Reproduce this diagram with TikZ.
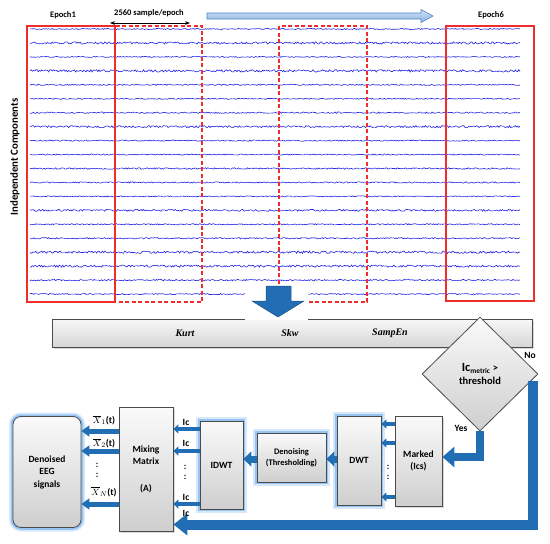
\documentclass[tikz,border=0pt]{standalone}
\usepackage{fontspec}
\setmainfont{Liberation Serif}
\setsansfont{Carlito}
\usetikzlibrary{arrows.meta,shapes.geometric,shadows}
\definecolor{flowblue}{RGB}{34,110,180}
\definecolor{eegblue}{RGB}{35,35,230}
\definecolor{glowblue}{RGB}{95,165,235}
\definecolor{boxedge}{RGB}{75,75,75}
\definecolor{epochred}{RGB}{240,45,45}
\tikzset{
  eeg/.style={draw=eegblue, line width=0.6pt},
  epoch/.style={draw=epochred, line width=1.1pt},
  toplbl/.style={font=\sffamily\bfseries\fontsize{8.5}{10}\selectfont},
  lbl/.style={font=\sffamily\bfseries\fontsize{9.5}{11}\selectfont, inner sep=1pt},
  featlbl/.style={font=\rmfamily\bfseries\itshape\fontsize{10}{12}\selectfont},
  box/.style={draw=boxedge, line width=0.8pt, top color=gray!4, bottom color=gray!38,
    align=center, inner sep=1pt, font=\sffamily\bfseries\fontsize{9.5}{12.5}\selectfont},
  glow/.style={preaction={draw=glowblue, line width=8pt, opacity=0.25},
    preaction={draw=glowblue, line width=4.5pt, opacity=0.55}},
  shade box/.style={drop shadow={shadow xshift=1.5pt, shadow yshift=-1.5pt, opacity=0.3}},
  outflow/.style={flowblue, line width=5pt, -{Triangle[width=11pt,length=8pt]}},
  icflow/.style={flowblue, line width=4pt, -{Triangle[width=9pt,length=5pt]}},
  fatflow/.style={flowblue, line width=7pt, -{Triangle[width=15pt,length=8pt]}},
  yesflow/.style={flowblue, line width=8pt, -{Triangle[width=20pt,length=12pt]}},
  noflow/.style={flowblue, line width=10pt, -{Triangle[width=21pt,length=14pt]}},
}
\begin{document}
\begin{tikzpicture}[x=1pt,y=-1pt]
  \useasboundingbox (0,0) rectangle (550,544);
  % components
  \pgfmathsetseed{11}
  \foreach \amp [count=\i from 0] in {0.7,1.4,0.7,1.5,0.8,0.7,0.9,1.3,0.8,0.7,1.0,0.8,0.7,1.2,0.8,0.9,1.5,1.4,0.9,0.7}
    \draw[eeg] plot[domain=30:520, samples=420] (\x,{29+13.95*\i+0.8*\amp*rand});
  % epochs
  \draw[epoch] (27,26) rectangle (115,302);
  \draw[epoch, dash pattern=on 4pt off 2.5pt] (115,26) rectangle (202,302);
  \draw[epoch, dash pattern=on 4pt off 2.5pt] (279,26) rectangle (367,302);
  \draw[epoch] (446,26) rectangle (534,301);
  \draw[epoch] (115,26) -- (115,302);
  \node[toplbl] (ep1) at (63,15) {Epoch1};
  \node[toplbl] (ep6) at (491,15) {Epoch6};
  \coordinate (len-a) at (110,23);
  \coordinate (len-b) at (190,23);
  \draw[{Stealth[length=5pt]}-{Stealth[length=5pt]}, line width=0.8pt] (len-a) -- (len-b);
  \node[toplbl] (len) at (149,13) {2560 sample/epoch};
  \draw[top color={rgb,255:red,205;green,225;blue,244}, bottom color={rgb,255:red,140;green,182;blue,228},
    draw={rgb,255:red,80;green,130;blue,190}, line width=0.6pt]
    (207,13) -- (421,13) -- (421,9.5) -- (433,16) -- (421,22.5) -- (421,19) -- (207,19) -- cycle;
  \node[rotate=90, font=\sffamily\bfseries\fontsize{10.8}{12}\selectfont] (iclbl) at (15,157) {Independent Components};
  % features
  \node[box, shade box, minimum width=480pt, minimum height=28pt, top color=gray!6, bottom color=gray!32] (feat) at (292,333) {};
  \node[featlbl] (kurt) at (185,333) {Kurt};
  \node[featlbl] (skw) at (290,333) {Skw};
  \node[featlbl] (sampen) at (390,333) {SampEn};
  \fill[white] (245,286) rectangle (308,320);
  \fill[flowblue, draw=flowblue!75!black, line width=0.5pt]
    (266,286) -- (291,286) -- (291,301) -- (304,301) -- (278,317) -- (252,301) -- (266,301) -- cycle;
  % decision
  \node[box, shape=diamond, minimum width=116pt, minimum height=114pt, inner sep=0pt,
    font=\sffamily\bfseries\fontsize{10.5}{13}\selectfont] (dia) at (480,374)
    {{\fontsize{12.5}{13}\selectfont Ic}\textsubscript{metric} >\\threshold};
  \node[lbl] (nolbl) at (530,355) {No};
  \node[lbl] (yeslbl) at (461,428) {Yes};
  % blocks
  \node[box, glow, rounded corners=8pt, minimum width=68pt, minimum height=111pt] (den) at (47,472) {Denoised\\EEG\\signals};
  \node[box, shade box, minimum width=54pt, minimum height=124pt] (mix) at (146,469) {Mixing\\Matrix\\[14pt](A)};
  \node[box, glow, minimum width=43pt, minimum height=88pt] (idwt) at (221.5,465) {IDWT};
  \node[box, glow, minimum width=69pt, minimum height=49pt, font=\sffamily\bfseries\fontsize{8.5}{11}\selectfont] (dns) at (291.5,457.5) {Denoising\\(Thresholding)};
  \node[box, glow, minimum width=44pt, minimum height=89pt] (dwt) at (359,460.5) {DWT};
  \node[box, shade box, minimum width=47pt, minimum height=90pt] (mark) at (418.5,461) {Marked\\(Ics)};
  % flows
  \draw[yesflow] (dia.south) |- ([yshift=4pt]mark.east);
  \foreach \y in {424,443,497}
    \draw[icflow] (mark.west |- 0,\y) -- (dwt.east |- 0,\y);
  \draw[fatflow] (dwt.west |- 0,459) -- (dns.east |- 0,459);
  \draw[fatflow] (dns.west |- 0,459) -- (idwt.east |- 0,459);
  \foreach \y in {429,451,504}
    \draw[icflow] (idwt.west |- 0,\y) -- (mix.east |- 0,\y);
  \foreach \y in {431,451,504}
    \draw[outflow] (mix.west |- 0,\y) -- (den.east |- 0,\y);
  \coordinate (no-a) at (532.5,381);
  \coordinate (no-b) at (532.5,524.5);
  \draw[noflow] (no-a) -- (no-b) -- (mix.east |- no-b);
  % labels
  \foreach \y/\n in {422/1,443/2,497/3,513/4}
    \node[lbl] (ic\n) at (186,\y) {Ic};
  \node[lbl] (x1) at (104,420) {$\overline{X}_{1}$(t)};
  \node[lbl] (x2) at (104,443) {$\overline{X}_{2}$(t)};
  \node[lbl] (xn) at (104,492) {$\overline{X}_{N}$(t)};
  \node[lbl, align=center, font=\sffamily\bfseries\fontsize{9}{10}\selectfont] (dots1) at (97,470) {:\\:};
  \node[lbl, align=center, font=\sffamily\bfseries\fontsize{9}{10}\selectfont] (dots2) at (185,472) {:\\:};
  \node[lbl, align=center, font=\sffamily\bfseries\fontsize{9}{10}\selectfont] (dots3) at (388,472) {:\\:};
\end{tikzpicture}
\end{document}
